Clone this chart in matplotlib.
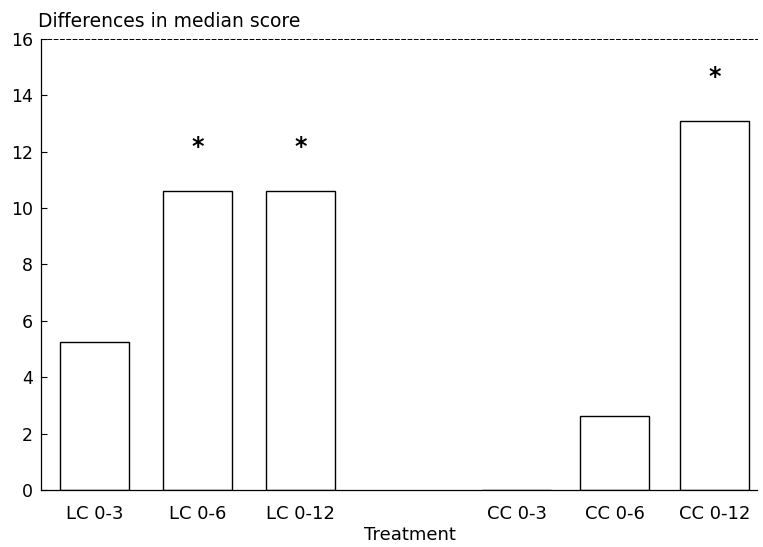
import matplotlib.pyplot as plt
import numpy as np

plt.rcParams['font.family'] = ['DejaVu Sans']

categories = ['LC 0-3', 'LC 0-6', 'LC 0-12', 'CC 0-3', 'CC 0-6', 'CC 0-12']
positions = [0, 1, 2, 4.1, 5.05, 6.02]
values = [5.25, 10.6, 10.6, 0.0, 2.62, 13.1]
significant = [False, True, True, False, False, True]

fig = plt.figure(figsize=(7.63, 5.47), dpi=100)
ax = fig.add_axes([0.054, 0.104, 0.938, 0.825])

ax.bar(positions, values, width=0.67, color='white', edgecolor='black', linewidth=1.0)
for x, v, s in zip(positions, values, significant):
    if s:
        ax.text(x, v + 1.55, '*', ha='center', va='center', fontsize=17, fontweight='bold')

ax.set_xlim(-0.52, 6.43)
ax.set_ylim(0, 16)
ax.set_yticks(np.arange(0, 17, 2))
ax.set_xticks(positions)
ax.set_xticklabels(categories)
ax.tick_params(axis='x', length=0, labelsize=13, pad=11)
ax.tick_params(axis='y', direction='in', length=4, labelsize=12.5, pad=6)

ax.spines['right'].set_visible(False)
for s in ['left', 'top', 'bottom']:
    ax.spines[s].set_linewidth(0.9)
ax.spines['top'].set_linestyle((0, (4, 2.5)))
ax.spines['top'].set_linewidth(0.7)

fig.text(410 / 763, 0.005, 'Treatment', fontsize=13, ha='center', va='bottom')
fig.text(0.05, 0.951, 'Differences in median score', fontsize=13.5, ha='left', va='baseline')

fig.savefig('out.png', dpi=100)
